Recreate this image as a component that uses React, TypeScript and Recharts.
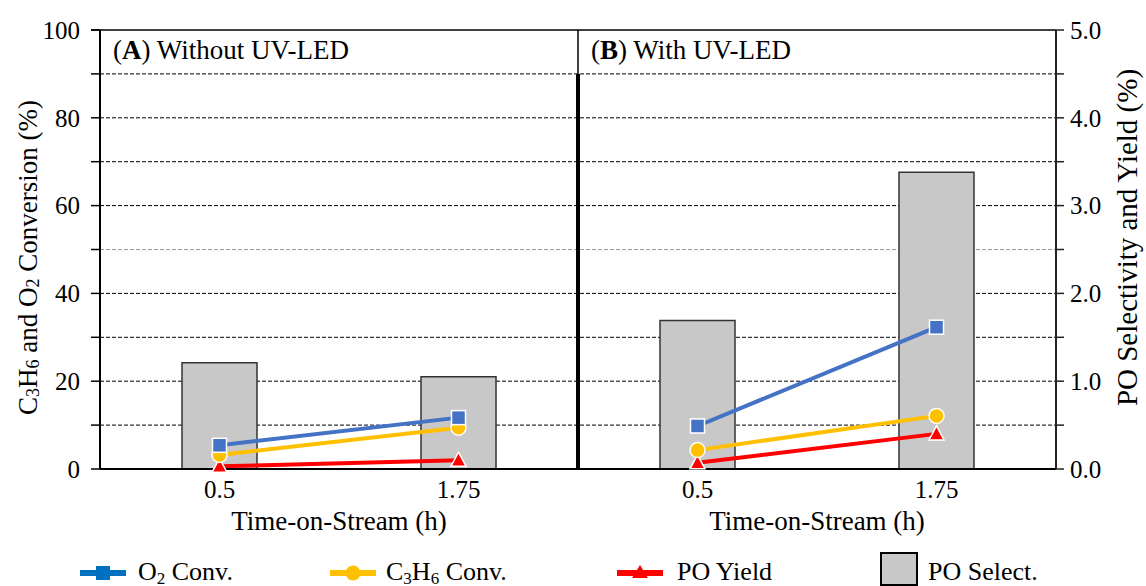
import {
  ComposedChart,
  Bar,
  Line,
  XAxis,
  YAxis,
  CartesianGrid,
  ReferenceArea,
  Legend,
} from "recharts";

const FONT = "'Liberation Serif', 'DejaVu Serif', serif";

// time-on-stream categories (h), same for both panels
const times = ["0.5", "1.75"];

// left axis (%): conversions
const o2ConvA = [5.4, 11.7];
const o2ConvB = [9.8, 32.3];
const c3h6ConvA = [3.2, 9.4];
const c3h6ConvB = [4.3, 12.1];

// right axis (%): PO yield and selectivity
const poYieldA = [0.03, 0.1];
const poYieldB = [0.07, 0.4];
const poSelectA = [1.21, 1.05];
const poSelectB = [1.69, 3.38];

const leftTicks = [0, 10, 20, 30, 40, 50, 60, 70, 80, 90, 100];
const rightTicks = [0, 0.5, 1, 1.5, 2, 2.5, 3, 3.5, 4, 4.5, 5];

const data = [
  ...times.map((t, i) => ({
    id: `A-${t}`,
    time: t,
    panel: "A",
    o2A: o2ConvA[i],
    c3h6A: c3h6ConvA[i],
    yieldA: poYieldA[i],
    select: poSelectA[i],
  })),
  ...times.map((t, i) => ({
    id: `B-${t}`,
    time: t,
    panel: "B",
    o2B: o2ConvB[i],
    c3h6B: c3h6ConvB[i],
    yieldB: poYieldB[i],
    select: poSelectB[i],
  })),
];

const BLUE = "#4472C4";
const YELLOW = "#FFC000";
const RED = "#FF0000";

function marker(kind: string, color: string) {
  return (p: any) => {
    const { cx, cy, value } = p;
    if (value == null || cx == null || cy == null) return <g key={p.key} />;
    if (kind === "square")
      return (
        <rect key={p.key} x={cx - 7} y={cy - 7} width={14} height={14}
          fill={color} stroke="#fff" strokeWidth={1.5} />
      );
    if (kind === "circle")
      return <circle key={p.key} cx={cx} cy={cy} r={7.5} fill={color} stroke="#fff" strokeWidth={1.5} />;
    return (
      <polygon key={p.key}
        points={`${cx},${cy - 8} ${cx + 7.5},${cy + 6} ${cx - 7.5},${cy + 6}`}
        fill={color} stroke="#fff" strokeWidth={1.5} />
    );
  };
}

// grid: dashed lines every 10 %, lighter at 50, solid border at 100
const gridLine = (p: any) => {
  const { x1, x2, y1, y2, index } = p;
  if (index === 0) return <g key={p.key} />;
  if (index === 10)
    return <line key={p.key} x1={x1 - 9} x2={x2} y1={y1} y2={y2} stroke="#000" strokeWidth={1.5} />;
  if (index === 5)
    return <line key={p.key} x1={x1} x2={x2} y1={y1} y2={y2} stroke="#999" strokeWidth={1} strokeDasharray="4 2" />;
  return <line key={p.key} x1={x1} x2={x2} y1={y1} y2={y2} stroke="#000" strokeWidth={1} strokeDasharray="4 2" />;
};

const LeftTitle = (props: any) => {
  const vb = props.viewBox;
  const cx = 28;
  const cy = vb.y + vb.height / 2 + 8;
  return (
    <text x={cx} y={cy} transform={`rotate(-90, ${cx}, ${cy})`} textAnchor="middle"
      dominantBaseline="central" fontSize={27} fontFamily={FONT} fill="#000">
      C<tspan fontSize={18} dy={5}>3</tspan>
      <tspan dy={-5}>H</tspan>
      <tspan fontSize={18} dy={5}>6</tspan>
      <tspan dy={-5}> and O</tspan>
      <tspan fontSize={18} dy={5}>2</tspan>
      <tspan dy={-5}> Conversion (%)</tspan>
    </text>
  );
};

const RightTitle = (props: any) => {
  const vb = props.viewBox;
  const cx = 1127;
  const cy = vb.y + vb.height / 2 - 12;
  return (
    <text x={cx} y={cy} transform={`rotate(-90, ${cx}, ${cy})`} textAnchor="middle"
      dominantBaseline="central" fontSize={29} fontFamily={FONT} fill="#000">
      PO Selectivity and Yield (%)
    </text>
  );
};

const panelTitle = (letter: string, rest: string) => (props: any) => {
  const vb = props.viewBox;
  return (
    <text x={vb.x + 13} y={vb.y + 29} fontSize={27} fontFamily={FONT} fill="#000">
      (<tspan fontWeight="bold">{letter}</tspan>){rest}
    </text>
  );
};

const divider = (w: number) => (p: any) => (
  <line x1={p.x + p.width} x2={p.x + p.width} y1={p.y} y2={p.y + p.height}
    stroke="#000" strokeWidth={w} />
);

const subStyle = { fontSize: 17, verticalAlign: "-4px", lineHeight: 0 };
const legendText = { position: "absolute" as const, top: 13, lineHeight: "26px", whiteSpace: "nowrap" as const };

const LegendIcon = ({ kind, color }: { kind: string; color: string }) => (
  <svg width={46} height={20} style={{ position: "absolute", top: 17 }}>
    <line x1={0} x2={46} y1={10} y2={10} stroke={color} strokeWidth={6} />
    {kind === "square" && <rect x={16} y={3} width={14} height={14} fill={color} />}
    {kind === "circle" && <circle cx={23} cy={10} r={7.5} fill={color} />}
    {kind === "triangle" && <polygon points="23,2 31,15 15,15" fill={color} />}
  </svg>
);

const renderLegend = () => (
  <div style={{ position: "relative", height: 40, fontFamily: FONT, fontSize: 26, color: "#000" }}>
    <div style={{ position: "absolute", left: 80 }}>
      <LegendIcon kind="square" color="#0070C0" />
      <span style={{ ...legendText, left: 58 }}>
        O<sub style={subStyle}>2</sub> Conv.
      </span>
    </div>
    <div style={{ position: "absolute", left: 330 }}>
      <LegendIcon kind="circle" color={YELLOW} />
      <span style={{ ...legendText, left: 56 }}>
        C<sub style={subStyle}>3</sub>H<sub style={subStyle}>6</sub> Conv.
      </span>
    </div>
    <div style={{ position: "absolute", left: 617 }}>
      <LegendIcon kind="triangle" color={RED} />
      <span style={{ ...legendText, left: 60 }}>PO Yield</span>
    </div>
    <div style={{ position: "absolute", left: 880 }}>
      <div style={{ position: "absolute", top: 6, width: 38, height: 34, background: "#C8C8C8", border: "2px solid #000", boxSizing: "border-box" }} />
      <span style={{ ...legendText, left: 48 }}>PO Select.</span>
    </div>
  </div>
);

const tickStyle = { fontSize: 25, fill: "#000", fontFamily: FONT };
const axisTitleStyle = { fontSize: 27, fill: "#000", fontFamily: FONT };

export default function App() {
  return (
    <div style={{ position: "absolute", left: 0, top: 0, width: 1146, height: 586, background: "#fff" }}>
      <ComposedChart
        width={1146}
        height={586}
        data={data}
        margin={{ top: 30, right: 0, bottom: 0, left: 0 }}
        style={{ fontFamily: FONT }}
      >
        <CartesianGrid xAxisId="main" yAxisId="left" vertical={false} horizontal={gridLine} />
        <XAxis
          xAxisId="main"
          dataKey="id"
          height={40}
          tickLine={false}
          tickMargin={5}
          axisLine={{ stroke: "#000", strokeWidth: 2 }}
          tick={tickStyle}
          tickFormatter={(v: string) => v.split("-")[1]}
        />
        <XAxis
          xAxisId="panel"
          dataKey="panel"
          allowDuplicatedCategory={false}
          height={37}
          axisLine={false}
          tickLine={false}
          tickSize={0}
          tickMargin={2}
          tick={axisTitleStyle}
          tickFormatter={() => "Time-on-Stream (h)"}
        />
        <YAxis
          yAxisId="left"
          width={100}
          domain={[0, 100]}
          ticks={leftTicks}
          interval={0}
          tickSize={9}
          tickMargin={11}
          axisLine={{ stroke: "#000", strokeWidth: 2 }}
          tickLine={{ stroke: "#000", strokeWidth: 1.5 }}
          tick={tickStyle}
          tickFormatter={(v: number) => (v % 20 === 0 ? String(v) : "")}
          label={LeftTitle}
        />
        <YAxis
          yAxisId="right"
          orientation="right"
          width={90}
          domain={[0, 5]}
          ticks={rightTicks}
          interval={0}
          tickSize={8}
          tickMargin={6}
          axisLine={{ stroke: "#222", strokeWidth: 2 }}
          tickLine={{ stroke: "#222", strokeWidth: 1.5 }}
          tick={tickStyle}
          tickFormatter={(v: number) => (Number.isInteger(v) ? v.toFixed(1) : "")}
          label={RightTitle}
        />

        <ReferenceArea xAxisId="main" yAxisId="left" x1="A-0.5" x2="A-1.75" y1={0} y2={90}
          shape={divider(4)} fill="none" />
        <ReferenceArea xAxisId="main" yAxisId="left" x1="A-0.5" x2="A-1.75" y1={90} y2={100}
          shape={divider(1.5)} fill="none" label={panelTitle("A", " Without UV-LED")} />
        <ReferenceArea xAxisId="main" yAxisId="left" x1="B-0.5" x2="B-1.75" y1={90} y2={100}
          shape={() => <g />} fill="none" label={panelTitle("B", " With UV-LED")} />

        <Bar xAxisId="main" yAxisId="right" dataKey="select" barSize={75}
          fill="#C8C8C8" stroke="#333" strokeWidth={1.5} isAnimationActive={false} />

        <Line xAxisId="main" yAxisId="right" dataKey="yieldA" stroke={RED} strokeWidth={4}
          dot={marker("triangle", RED)} activeDot={false} isAnimationActive={false} />
        <Line xAxisId="main" yAxisId="right" dataKey="yieldB" stroke={RED} strokeWidth={4}
          dot={marker("triangle", RED)} activeDot={false} isAnimationActive={false} />
        <Line xAxisId="main" yAxisId="left" dataKey="c3h6A" stroke={YELLOW} strokeWidth={4}
          dot={marker("circle", YELLOW)} activeDot={false} isAnimationActive={false} />
        <Line xAxisId="main" yAxisId="left" dataKey="c3h6B" stroke={YELLOW} strokeWidth={4}
          dot={marker("circle", YELLOW)} activeDot={false} isAnimationActive={false} />
        <Line xAxisId="main" yAxisId="left" dataKey="o2A" stroke={BLUE} strokeWidth={4}
          dot={marker("square", BLUE)} activeDot={false} isAnimationActive={false} />
        <Line xAxisId="main" yAxisId="left" dataKey="o2B" stroke={BLUE} strokeWidth={4}
          dot={marker("square", BLUE)} activeDot={false} isAnimationActive={false} />

        <Legend verticalAlign="bottom" content={renderLegend} wrapperStyle={{ height: 40 }} />
      </ComposedChart>
    </div>
  );
}
